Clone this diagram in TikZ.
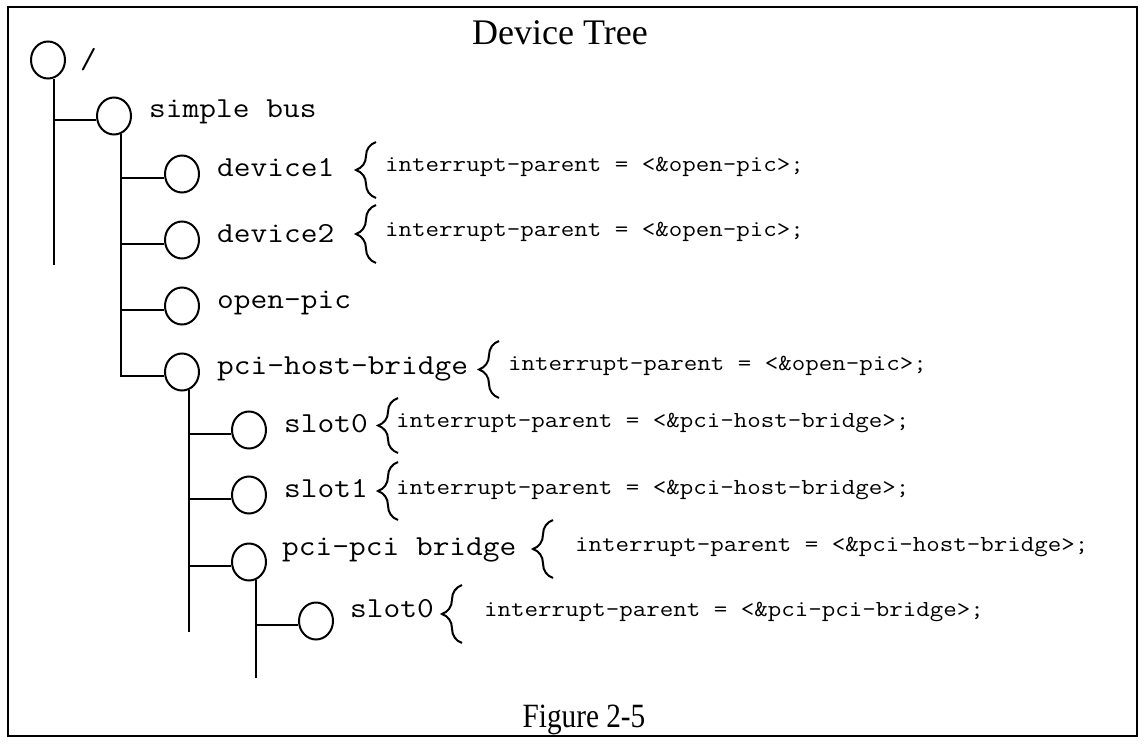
\documentclass[tikz,border=0pt]{standalone}
\usepackage{fontspec}
\setmainfont{Liberation Serif}
\usetikzlibrary{shapes.geometric,decorations.pathreplacing}
\tikzset{
  nd/.style={draw, ellipse, line width=2pt, minimum width=34pt, minimum height=37pt, inner sep=0pt},
  lbl/.style={anchor=base west, inner sep=0pt, xscale=1.12, font=\ttfamily\fontsize{29}{31}\selectfont},
  attr/.style={anchor=base west, inner sep=0pt, xscale=1.14, font=\ttfamily\fontsize{23}{25}\selectfont},
  edge/.style={line width=2pt},
  brc/.style={line width=2pt, decorate, decoration={brace, amplitude=20pt, aspect=0.5}},
}
\begin{document}
\begin{tikzpicture}[x=1pt,y=-1pt]
\useasboundingbox (0,0) rectangle (1146,744);
\draw[line width=2.5pt] (8,7) rectangle (1137,736);
\node[anchor=base, inner sep=0pt, font=\fontsize{36}{40}\selectfont] (title) at (560,44) {Device Tree};
\node[anchor=base, inner sep=0pt, font=\fontsize{34}{38}\selectfont, xscale=0.86] (cap) at (584,727) {Figure 2-5};

% circles
\node[nd] (c0) at (48,60) {};
\node[nd] (c1) at (114,116) {};
\node[nd] (c2) at (182,174) {};
\node[nd] (c3) at (182,240) {};
\node[nd] (c4) at (182,306) {};
\node[nd] (c5) at (182,372) {};
\node[nd] (c6) at (249,430) {};
\node[nd] (c7) at (249,495) {};
\node[nd] (c8) at (249,562) {};
\node[nd] (c9) at (316,621) {};

% labels
\node[lbl] (l0) at (80,68) {/};
\node[lbl] (l1) at (149,117) {simple bus};
\node[lbl] (l2) at (217,176) {device1};
\node[lbl] (l3) at (217,242) {device2};
\node[lbl] (l4) at (217,308) {open-pic};
\node[lbl] (l5) at (217,374) {pci-host-bridge};
\node[lbl] (l6) at (284,432) {slot0};
\node[lbl] (l7) at (284,497) {slot1};
\node[lbl] (l8) at (282,555) {pci-pci bridge};
\node[lbl] (l9) at (350,617) {slot0};

% attributes
\node[attr] (a2) at (385,171) {interrupt-parent = <\&open-pic>;};
\node[attr] (a3) at (385,236) {interrupt-parent = <\&open-pic>;};
\node[attr] (a5) at (508,370) {interrupt-parent = <\&open-pic>;};
\node[attr] (a6) at (396,427) {interrupt-parent = <\&pci-host-bridge>;};
\node[attr] (a7) at (396,494) {interrupt-parent = <\&pci-host-bridge>;};
\node[attr] (a8) at (575,551) {interrupt-parent = <\&pci-host-bridge>;};
\node[attr] (a9) at (484,616) {interrupt-parent = <\&pci-pci-bridge>;};

% braces
\draw[brc] (376,198) -- (376,142);
\draw[brc] (376,263) -- (376,205);
\draw[brc] (499,398) -- (499,341);
\draw[brc] (398,453) -- (398,398);
\draw[brc] (398,520) -- (398,462);
\draw[brc] (553,578) -- (553,520);
\draw[brc] (462,643) -- (462,585);

% tree lines
\coordinate (e0) at (53,265);
\coordinate (e5) at (188,632);
\coordinate (e8) at (255,678);
\draw[edge] (c0.-73) -- (c0.-73 |- e0);
\draw[edge] (c0.-73 |- c1.192) -- (c1.192);
\draw[edge] (c1.-70) |- (c5.192);
\draw[edge] (c1.-70 |- c2.192) -- (c2.192);
\draw[edge] (c1.-70 |- c3.192) -- (c3.192);
\draw[edge] (c1.-70 |- c4.192) -- (c4.192);
\draw[edge] (c5.-70) -- (c5.-70 |- e5);
\draw[edge] (c5.-70 |- c6.192) -- (c6.192);
\draw[edge] (c5.-70 |- c7.192) -- (c7.192);
\draw[edge] (c5.-70 |- c8.192) -- (c8.192);
\draw[edge] (c8.-70) -- (c8.-70 |- e8);
\draw[edge] (c8.-70 |- c9.192) -- (c9.192);
\end{tikzpicture}
\end{document}
